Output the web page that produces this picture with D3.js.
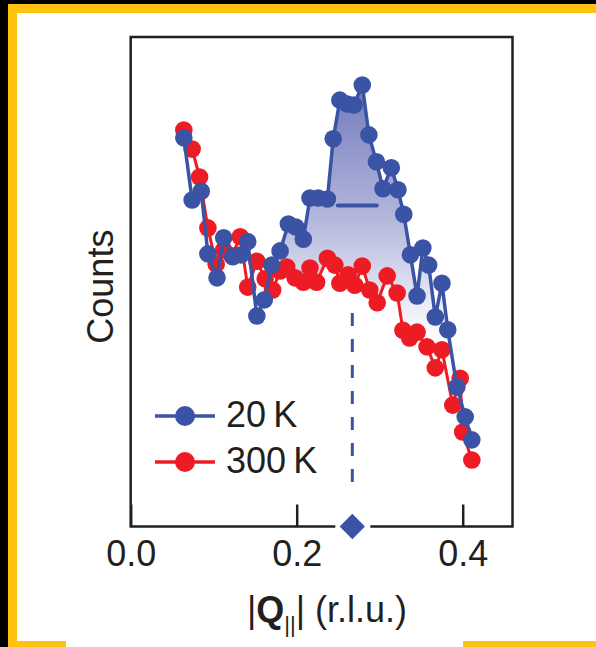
<!DOCTYPE html>
<html>
<head>
<meta charset="utf-8">
<script src="https://cdn.jsdelivr.net/npm/d3@7"></script>
<style>
  html, body { margin: 0; padding: 0; background: #000; }
  svg { display: block; }
  text { font-family: "Liberation Sans", Arial, sans-serif; fill: #231f20; }
</style>
</head>
<body>
<svg width="596" height="647"></svg>
<script>
// Q values (r.l.u.) and counts (arb. units)
const qBlue = [0.064, 0.074, 0.085, 0.093, 0.104, 0.112, 0.123, 0.133, 0.141, 0.152,
  0.161, 0.170, 0.180, 0.190, 0.199, 0.208, 0.216, 0.226, 0.237, 0.244,
  0.252, 0.261, 0.269, 0.279, 0.287, 0.296, 0.304, 0.314, 0.322, 0.329,
  0.337, 0.345, 0.352, 0.359, 0.367, 0.375, 0.382, 0.393, 0.403, 0.411];
const counts20K = [79.4, 66.7, 68.5, 55.7, 50.8, 59.0, 55.1, 55.5, 58.2, 43.0,
  46.3, 53.4, 56.3, 61.8, 61.2, 58.7, 67.1, 67.1, 66.9, 79.2,
  87.1, 86.3, 86.1, 90.2, 80.0, 74.5, 69.0, 73.3, 68.8, 63.8,
  55.5, 47.1, 56.9, 53.4, 42.8, 49.7, 40.2, 28.5, 22.4, 17.7];

const qRed = [0.064, 0.074, 0.083, 0.093, 0.103, 0.112, 0.122, 0.132, 0.141, 0.152,
  0.162, 0.171, 0.180, 0.188, 0.198, 0.208, 0.216, 0.224, 0.237, 0.246,
  0.252, 0.262, 0.270, 0.279, 0.288, 0.297, 0.309, 0.321, 0.328, 0.336,
  0.345, 0.357, 0.367, 0.375, 0.388, 0.397, 0.400, 0.411];
const counts300K = [81.0, 77.1, 71.4, 61.0, 53.6, 56.5, 55.3, 59.2, 48.9, 54.2,
  50.6, 48.3, 52.2, 53.0, 50.8, 49.9, 52.8, 49.9, 54.8, 53.4,
  49.7, 51.4, 49.3, 53.2, 48.3, 45.7, 51.2, 47.7, 40.1, 38.5,
  39.7, 36.7, 32.4, 36.1, 24.8, 30.3, 19.3, 13.6];

const xTicks = [0.0, 0.2, 0.4];
const peakQ = 0.267;            // diamond / dashed line
const fwhm = [0.2495, 0.2965];  // horizontal bar
const fwhmCount = 65.6;
const legendNames = ['20\u2009K', '300\u2009K'];

const blue = '#3a53a4';
const red = '#ed1c24';

const svg = d3.select('svg');

// yellow frame round the figure
svg.append('rect').attr('x', 8).attr('y', 4).attr('width', 600).attr('height', 650).attr('fill', '#ffc20e');
svg.append('rect').attr('x', 17).attr('y', 13).attr('width', 600).attr('height', 628).attr('fill', '#fff');
svg.append('rect').attr('x', 66).attr('y', 630).attr('width', 397).attr('height', 20).attr('fill', '#fff');

const x = d3.scaleLinear().domain([0, 0.46]).range([130.7, 512.5]);
const y = d3.scaleLinear().domain([0, 100]).range([526.5, 37]);

const blueData = qBlue.map((q, i) => [q, counts20K[i]]);
const redData = qRed.map((q, i) => [q, counts300K[i]]);

// shaded area between the curves
const redAt = d3.scaleLinear().domain(qRed).range(counts300K);
const grad = svg.append('defs').append('linearGradient')
  .attr('id', 'fillGrad').attr('gradientUnits', 'userSpaceOnUse')
  .attr('x1', 0).attr('x2', 0).attr('y1', y(90)).attr('y2', y(40));
grad.append('stop').attr('offset', 0).attr('stop-color', '#737bbb');
grad.append('stop').attr('offset', 0.55).attr('stop-color', '#b4b8dc');
grad.append('stop').attr('offset', 1).attr('stop-color', '#fbfbfe');

const shade = blueData.filter(d => d[0] >= 0.18 && d[0] <= 0.383);
svg.append('path')
  .datum(shade)
  .attr('d', d3.area()
    .x(d => x(d[0]))
    .y1(d => y(d[1]))
    .y0(d => y(Math.min(redAt(d[0]), d[1]))))
  .attr('fill', 'url(#fillGrad)');

// dashed line down to the diamond
svg.append('line')
  .attr('x1', x(peakQ)).attr('x2', x(peakQ))
  .attr('y1', y(43.6)).attr('y2', y(7))
  .attr('stroke', blue).attr('stroke-width', 3)
  .attr('stroke-dasharray', '13,13');

// frame, with a gap in the bottom edge for the diamond
const fr = { l: x(0), r: x(0.46), t: y(100), b: y(0) };
const frame = d3.path();
frame.moveTo(x(peakQ) - 17, fr.b);
frame.lineTo(fr.l, fr.b);
frame.lineTo(fr.l, fr.t);
frame.lineTo(fr.r, fr.t);
frame.lineTo(fr.r, fr.b);
frame.lineTo(x(peakQ) + 18, fr.b);
svg.append('path').attr('d', frame.toString())
  .attr('fill', 'none').attr('stroke', '#231f20').attr('stroke-width', 2.5);

const xAxis = d3.axisBottom(x)
  .tickValues(xTicks)
  .tickFormat(d3.format('.1f'))
  .tickSize(-22)
  .tickPadding(14);
const gx = svg.append('g').attr('transform', `translate(0,${fr.b})`).call(xAxis);
gx.select('.domain').remove();
gx.selectAll('.tick line').attr('stroke', '#231f20').attr('stroke-width', 2.5);
gx.selectAll('.tick text').attr('font-size', 36).attr('font-family', '"Liberation Sans", Arial, sans-serif').attr('fill', '#231f20');

// diamond at the peak position
svg.append('path')
  .attr('d', d3.symbol(d3.symbolSquare, 320)())
  .attr('transform', `translate(${x(peakQ)},${fr.b}) rotate(45)`)
  .attr('fill', blue);

// series
const line = d3.line().x(d => x(d[0])).y(d => y(d[1]));
svg.append('path').datum(redData).attr('d', line)
  .attr('fill', 'none').attr('stroke', red).attr('stroke-width', 3);
svg.append('g').selectAll('circle').data(redData).join('circle')
  .attr('cx', d => x(d[0])).attr('cy', d => y(d[1])).attr('r', 8.8).attr('fill', red);

svg.append('path').datum(blueData).attr('d', line)
  .attr('fill', 'none').attr('stroke', blue).attr('stroke-width', 3.5);
svg.append('g').selectAll('circle').data(blueData).join('circle')
  .attr('cx', d => x(d[0])).attr('cy', d => y(d[1])).attr('r', 8.8).attr('fill', blue);

// FWHM bar
svg.append('line')
  .attr('x1', x(fwhm[0])).attr('x2', x(fwhm[1]))
  .attr('y1', y(fwhmCount)).attr('y2', y(fwhmCount))
  .attr('stroke', blue).attr('stroke-width', 4).attr('stroke-linecap', 'round');

// legend
const legend = svg.append('g').selectAll('g').data(legendNames).join('g')
  .attr('transform', (d, i) => `translate(0,${416 + i * 46})`);
legend.append('line').attr('x1', 155).attr('x2', 215)
  .attr('stroke', (d, i) => i ? red : blue).attr('stroke-width', 3.5);
legend.append('circle').attr('cx', 185).attr('r', 10)
  .attr('fill', (d, i) => i ? red : blue);
legend.append('text').attr('x', 226).attr('y', 11)
  .attr('font-size', 36).text(d => d);

// axis titles
svg.append('text')
  .attr('transform', `translate(113,${y(49)}) rotate(-90)`)
  .attr('text-anchor', 'middle').attr('font-size', 36).text('Counts');

const xt = svg.append('text').attr('x', 327).attr('y', 622)
  .attr('text-anchor', 'middle').attr('font-size', 36);
xt.append('tspan').text('|');
xt.append('tspan').attr('font-weight', 'bold').text('Q');
xt.append('tspan').attr('font-size', 22).attr('dy', 10).text('||');
xt.append('tspan').attr('dy', -10).text('| (r.l.u.)');
</script>
</body>
</html>
